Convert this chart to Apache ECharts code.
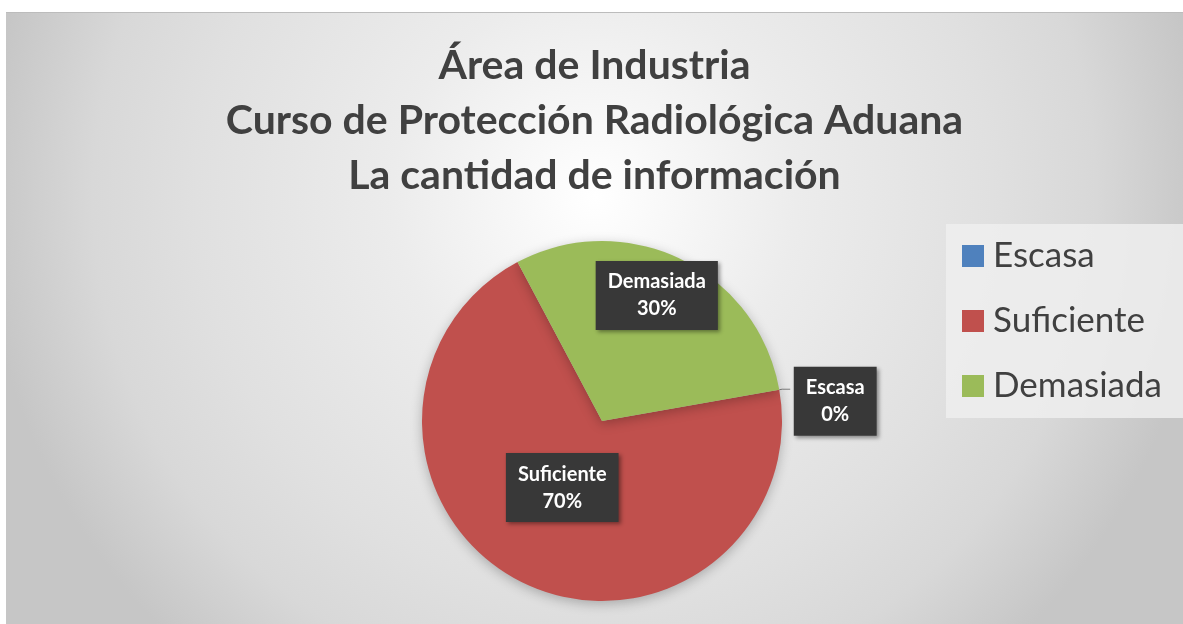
<!DOCTYPE html>
<html>
<head>
<meta charset="utf-8">
<script src="https://cdn.jsdelivr.net/npm/echarts@6/dist/echarts.min.js"></script>
<style>
    html, body { margin: 0; padding: 0; background: #ffffff; }
    #chart { position: absolute; left: 6px; top: 12px; width: 1177px; height: 612px; border-top: 1px solid #bcbcbc; }
</style>
</head>
<body>
<div id="chart"></div>
<script>
var titleLines = ["Área de Industria", "Curso de Protección Radiológica Aduana", "La cantidad de información"];
var categories = ["Escasa", "Suficiente", "Demasiada"];
var values = [0, 70, 30];
var colors = ["#4f81bd", "#c0504d", "#9bbb59"];

// where Excel puts its data labels, relative to the ECharts default
var labelShift = [[40, 12], [1, -17], [14, -42]];

var myChart = echarts.init(document.getElementById("chart"));

var data = categories.map(function(name, i) {
    var item = { name: name, value: values[i] };
    if (values[i] === 0) {
        item.label = { position: "outside" };
        item.labelLine = { show: true, length: 3, length2: 8 };
    }
    return item;
});

myChart.setOption({
    backgroundColor: {
        type: "radial",
        x: 0.5, y: 0.3, r: 1.0,
        colorStops: [
            { offset: 0, color: "#ffffff" },
            { offset: 0.33, color: "#ececec" },
            { offset: 0.65, color: "#e0e0e0" },
            { offset: 0.82, color: "#d8d8d8" },
            { offset: 1, color: "#c6c6c6" }
        ]
    },
    color: colors,
    title: {
        text: titleLines.join("\n"),
        left: "center",
        top: 20,
        textStyle: {
            fontFamily: "Lato",
            fontWeight: "bold",
            fontSize: 41,
            lineHeight: 55,
            color: "#404040"
        }
    },
    legend: {
        orient: "vertical",
        left: 940,
        top: 211,
        padding: [12, 30, 12, 16],
        itemGap: 25,
        itemWidth: 22,
        itemHeight: 22,
        icon: "rect",
        backgroundColor: "rgba(238,238,238,0.85)",
        textStyle: {
            fontFamily: "Lato",
            fontSize: 35,
            lineHeight: 40,
            padding: [0, 0, 0, 4],
            color: "#404040"
        },
        data: categories
    },
    series: [
        {
            type: "pie",
            center: [596, 408],
            radius: 180,
            startAngle: 10,
            percentPrecision: 0,
            avoidLabelOverlap: false,
            data: data,
            itemStyle: {
                shadowBlur: 12,
                shadowOffsetY: 3,
                shadowColor: "rgba(0, 0, 0, 0.25)"
            },
            label: {
                show: true,
                position: "inside",
                formatter: "{b}\n{d}%",
                align: "center",
                fontFamily: "Lato",
                fontWeight: "bold",
                fontSize: 20,
                lineHeight: 27,
                color: "#ffffff",
                backgroundColor: "#383838",
                padding: [8, 12, 7, 12],
                shadowBlur: 4,
                shadowOffsetX: 2,
                shadowOffsetY: 2,
                shadowColor: "rgba(0, 0, 0, 0.4)"
            },
            labelLine: {
                lineStyle: { color: "#7f7f7f", width: 1 }
            },
            labelLayout: function(params) {
                var s = labelShift[params.dataIndex];
                return { dx: s[0], dy: s[1], align: "center" };
            },
            emphasis: { disabled: true }
        }
    ]
});
</script>
</body>
</html>
